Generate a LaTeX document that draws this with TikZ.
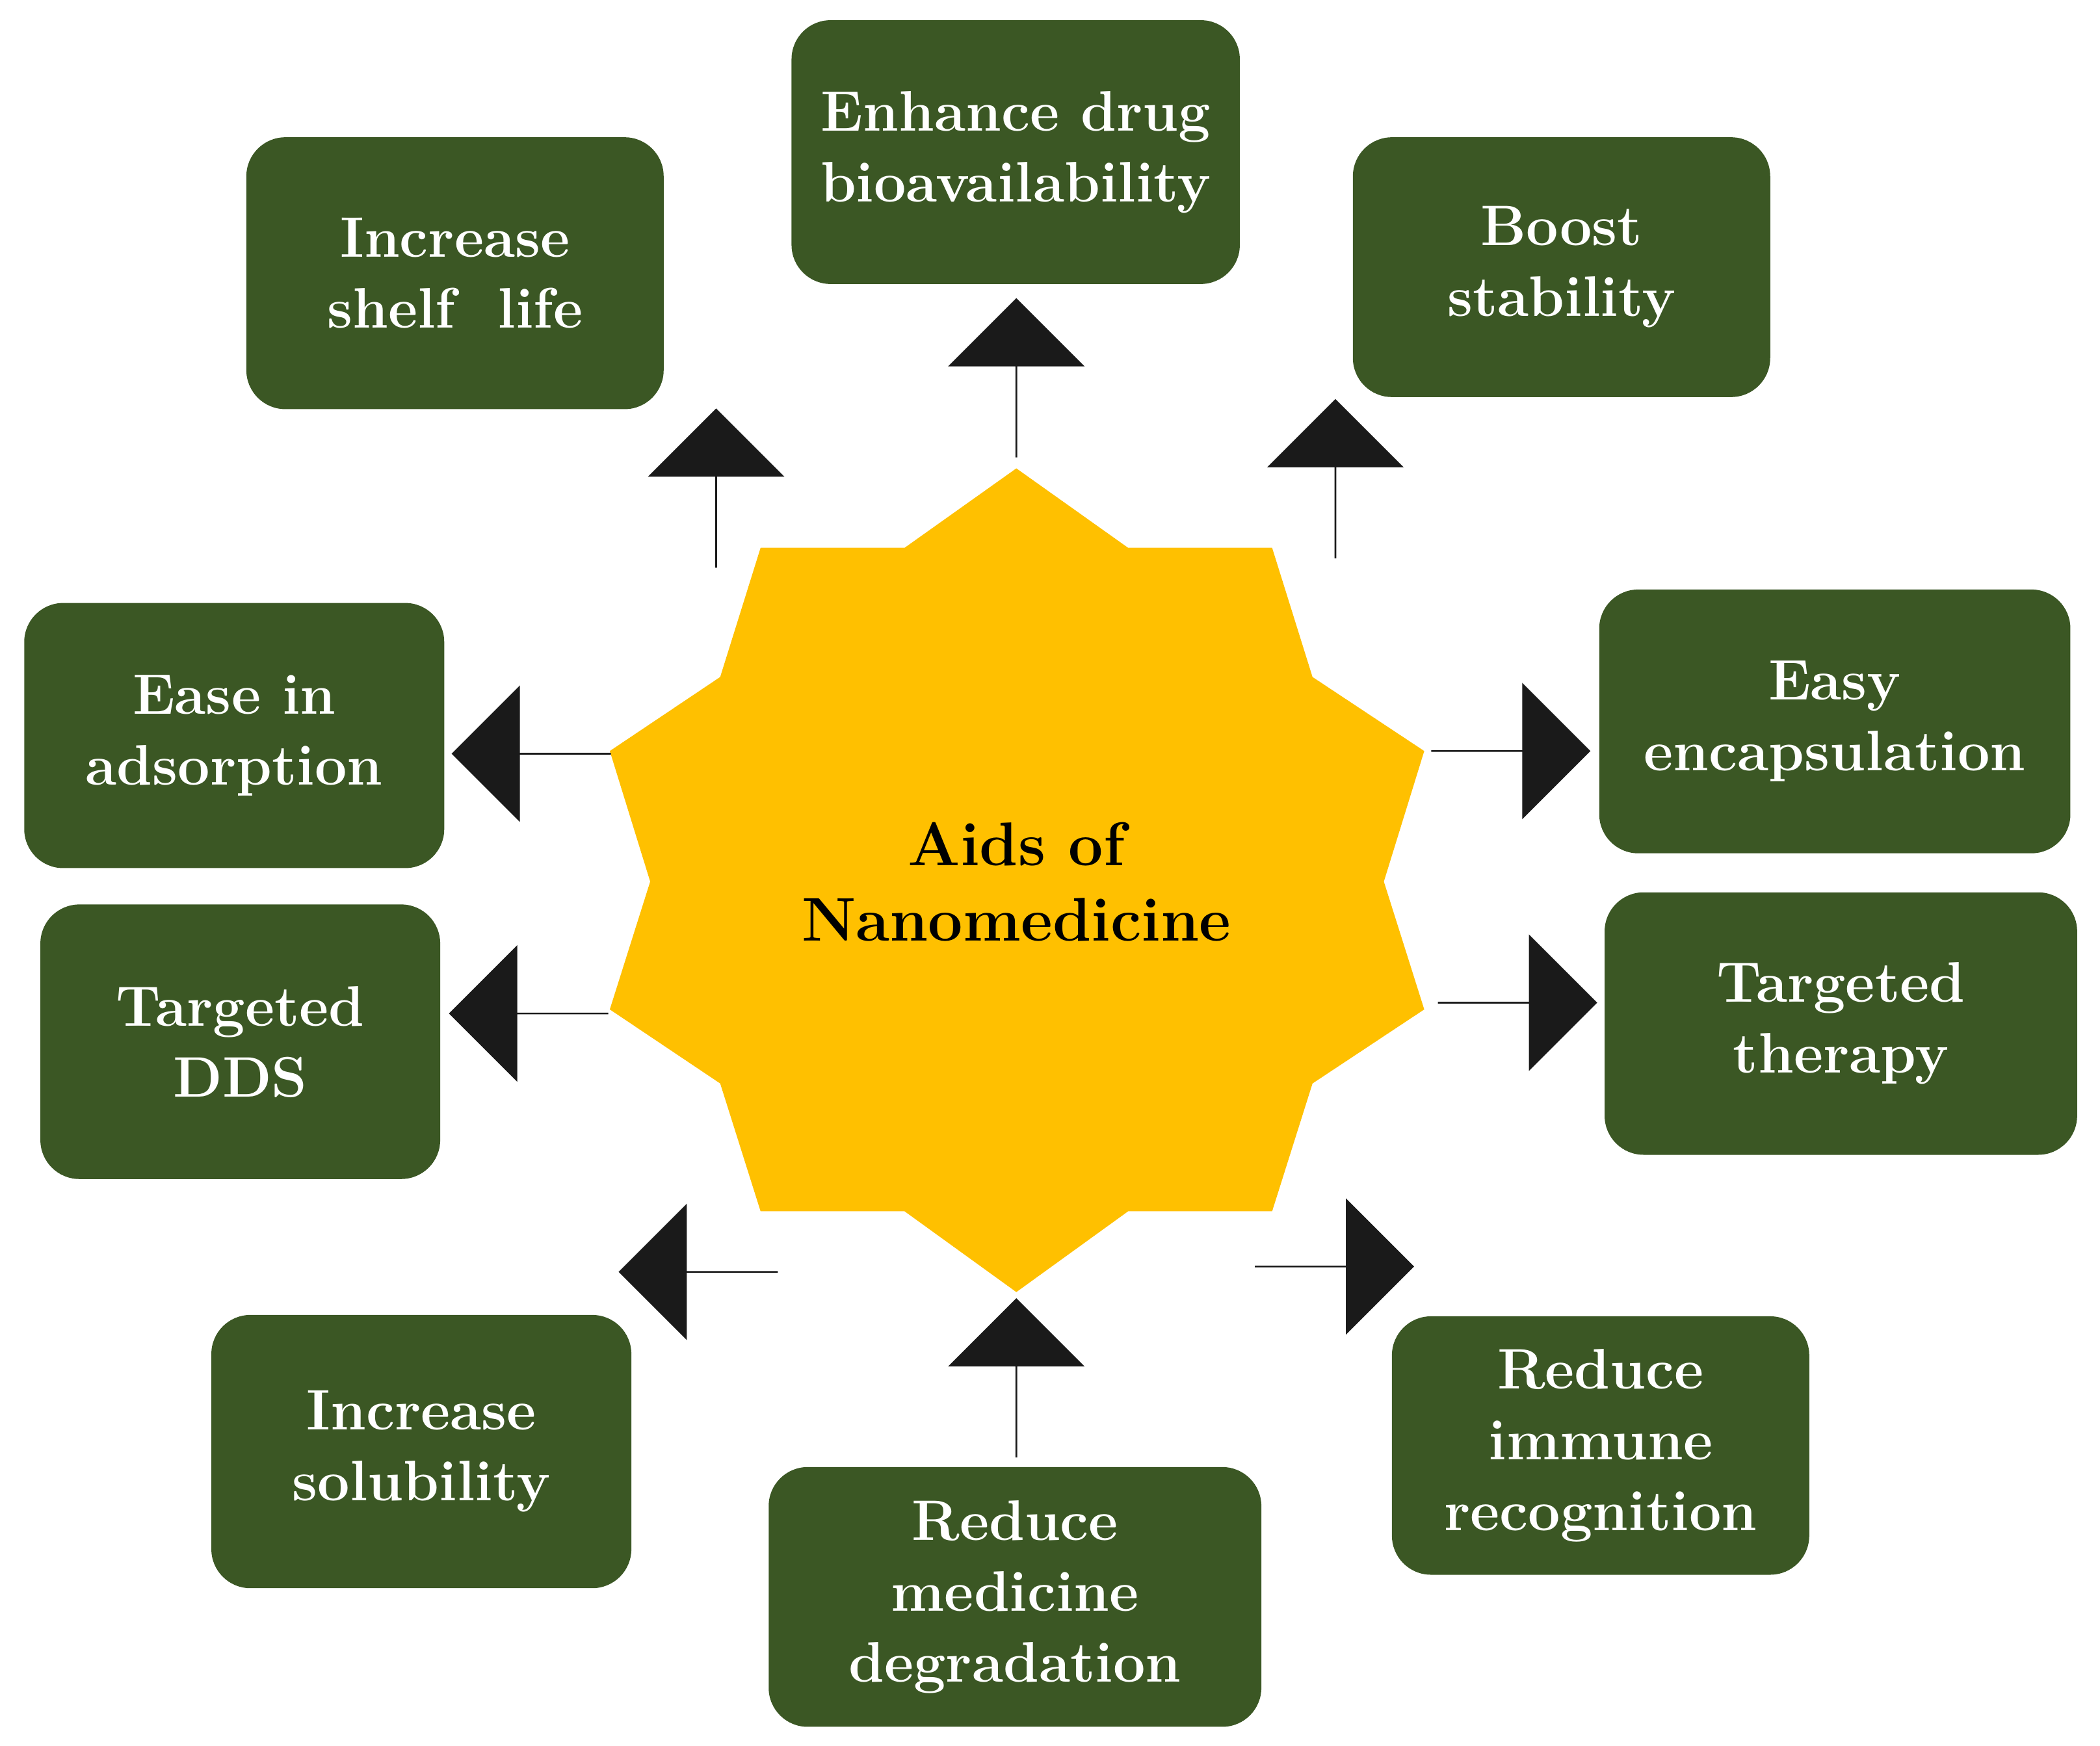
\documentclass[tikz,border=0pt]{standalone}
\usetikzlibrary{shapes.arrows}
\definecolor{boxg}{HTML}{3B5724}
\definecolor{staro}{HTML}{FFC000}
\definecolor{arr}{HTML}{1A1A1A}
\begin{document}
\begin{tikzpicture}[x=0.0207cm,y=-0.0207cm,
  bx/.style={fill=boxg,draw=none,rounded corners=0.6cm,text=white,align=center,
    font=\fontsize{25}{31}\selectfont\bfseries,inner sep=0pt},
  ar/.style={single arrow,fill=arr,draw=none,minimum width=2.1cm,
    single arrow head extend=0.55cm,minimum height=2.45cm,inner sep=0pt,anchor=center}]
\useasboundingbox (0,0) rectangle (1560,1297);
\fill[staro] (755,348)--(838,407)--(945,407)--(975,503)--(1058,558)--(1028,655)--(1058,750)--(975,805)--(945,900)--(838,900)--(755,960)--(672,900)--(565,900)--(535,805)--(453,750)--(483,655)--(453,558)--(535,503)--(565,407)--(672,407)--cycle;
\node[font=\fontsize{27}{33}\selectfont\bfseries,align=center] (c) at (755,655) {Aids of\\Nanomedicine};
\newcommand{\bxx}[6]{\fill[boxg,rounded corners=0.6cm] (#2,#3) rectangle (#4,#5);
  \node[bx] (#1) at ({(#2+#4)/2},{(#3+#5)/2}) {#6};}
\bxx{b1}{588}{15}{921}{211}{Enhance drug\\bioavailability}
\bxx{b2}{183}{102}{493}{304}{Increase\\shelf\ \ life}
\bxx{b3}{1005}{102}{1315}{295}{Boost\\stability}
\bxx{b4}{18}{448}{330}{645}{Ease in\\adsorption}
\bxx{b5}{1188}{438}{1538}{634}{Easy\\encapsulation}
\bxx{b6}{30}{672}{327}{876}{Targeted\\DDS}
\bxx{b7}{1192}{663}{1543}{858}{Targeted\\therapy}
\bxx{b8}{157}{977}{469}{1180}{Increase\\solubility}
\bxx{b9}{571}{1090}{937}{1283}{Reduce\\medicine\\degradation}
\bxx{b10}{1034}{978}{1344}{1170}{Reduce\\immune\\recognition}
\node[ar,shape border rotate=90] (a1) at (755,281) {};
\node[ar,shape border rotate=90] (a9) at (755,1024) {};
\node[ar,shape border rotate=180] (a4) at (395,560) {};
\node[ar,shape border rotate=180] (a6) at (393,753) {};
\node[ar] (a5) at (1122,558) {};
\node[ar] (a7) at (1127,745) {};
\node[ar,shape border rotate=130] (a2) at (532,363) {};
\node[ar,shape border rotate=55] (a3) at (992,356) {};
\node[ar,shape border rotate=218] (a8) at (519,945) {};
\node[ar,shape border rotate=-45] (a10) at (991,941) {};
\end{tikzpicture}
\end{document}
